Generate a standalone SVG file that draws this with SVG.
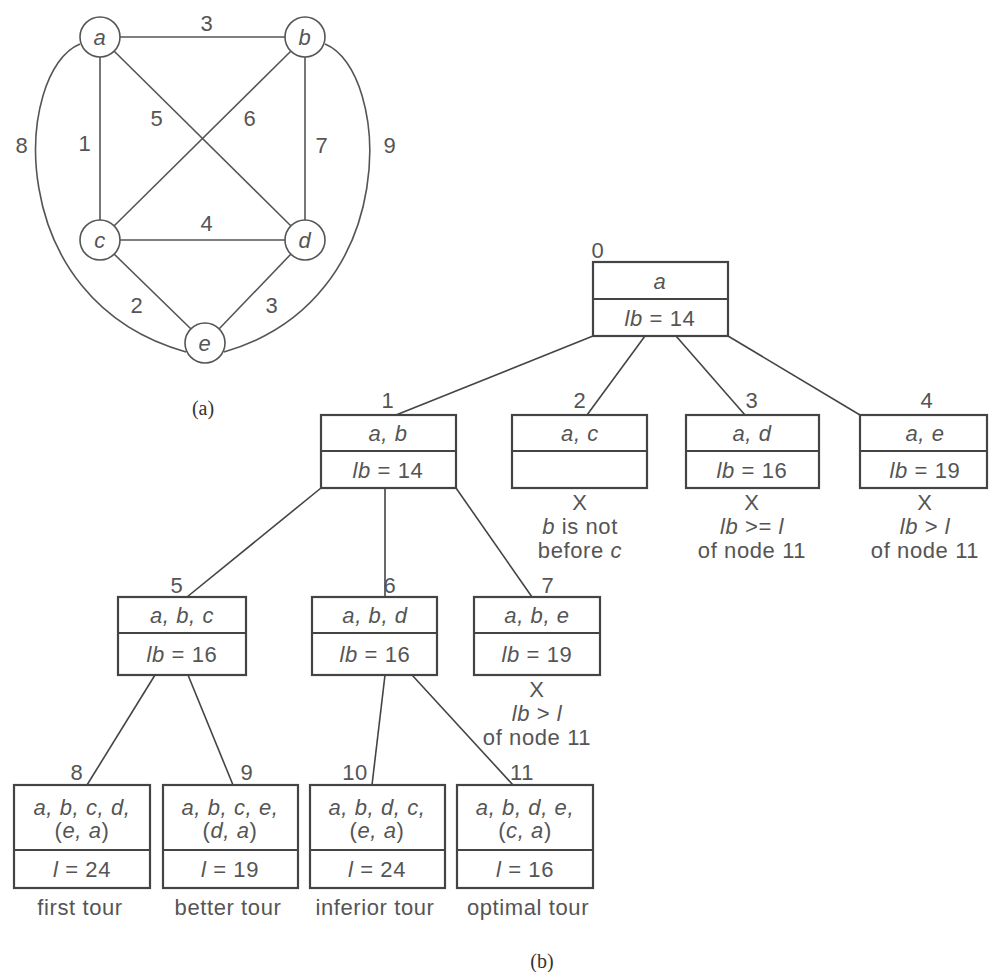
<svg xmlns="http://www.w3.org/2000/svg" width="990" height="972" viewBox="0 0 990 972">
<style>
text{font-family:"Liberation Sans",Arial,sans-serif;font-size:22px;fill:#555;text-anchor:middle;letter-spacing:0.6px}
.i{font-style:italic}
.cap{font-family:"Liberation Serif","Times New Roman",serif;font-size:20px;fill:#333;letter-spacing:0}
.g line,.g path,.g circle{stroke:#555;stroke-width:1.6;fill:none}
.g circle{fill:#fff}
.box rect{fill:#fff;stroke:#444;stroke-width:2.2}
.box line{stroke:#444;stroke-width:2.2}
.edges line{stroke:#444;stroke-width:1.6}
</style>
<rect width="990" height="972" fill="#fff"/>
<g id="graph-a" class="g">
<g id="graph-edges">
<line x1="120" y1="37" x2="285" y2="37"/>
<line x1="100" y1="57" x2="100" y2="220"/>
<line x1="305" y1="57" x2="305" y2="220"/>
<line x1="120" y1="240" x2="285" y2="240"/>
<line x1="114" y1="51" x2="291" y2="226"/>
<line x1="291" y1="51" x2="114" y2="226"/>
<line x1="114" y1="254" x2="191" y2="329"/>
<line x1="291" y1="254" x2="219" y2="329"/>
<path d="M 80,44 C 15,70 0,300 186,352"/>
<path d="M 325,44 C 390,70 405,300 224,352"/>
</g>
<g id="va"><circle cx="100" cy="37" r="20"/><text class="i" x="100" y="45">a</text></g>
<g id="vb"><circle cx="305" cy="37" r="20"/><text class="i" x="305" y="45">b</text></g>
<g id="vc"><circle cx="100" cy="240" r="20"/><text class="i" x="100" y="248">c</text></g>
<g id="vd"><circle cx="305" cy="240" r="20"/><text class="i" x="305" y="248">d</text></g>
<g id="ve"><circle cx="205" cy="343" r="20"/><text class="i" x="205" y="351">e</text></g>
<g id="weights">
<text x="207" y="31">3</text>
<text x="85" y="151">1</text>
<text x="157" y="126">5</text>
<text x="250" y="126">6</text>
<text x="322" y="153">7</text>
<text x="22" y="153">8</text>
<text x="390" y="153">9</text>
<text x="207" y="231">4</text>
<text x="137" y="313">2</text>
<text x="272" y="313">3</text>
</g>
<text class="cap" x="203" y="415">(a)</text>
</g>

<g id="connectors" class="edges">
<line x1="593" y1="336" x2="396" y2="415"/>
<line x1="645" y1="336" x2="587" y2="415"/>
<line x1="676" y1="336" x2="745" y2="415"/>
<line x1="728" y1="336" x2="860" y2="415"/>
<line x1="321" y1="488" x2="187" y2="597"/>
<line x1="385" y1="488" x2="385" y2="597"/>
<line x1="456" y1="488" x2="532" y2="597"/>
<line x1="155" y1="675" x2="87" y2="785"/>
<line x1="188" y1="675" x2="233" y2="785"/>
<line x1="385" y1="675" x2="372" y2="785"/>
<line x1="412" y1="675" x2="513" y2="785"/>
</g>

<g id="n0" class="box">
<rect x="593" y="262" width="135" height="74"/><line x1="593" y1="299" x2="728" y2="299"/>
<text x="598" y="258">0</text>
<text class="i" x="660" y="289">a</text>
<text x="660" y="326"><tspan class="i">lb</tspan> = 14</text>
</g>
<g id="n1" class="box">
<rect x="321" y="415" width="135" height="73"/><line x1="321" y1="451" x2="456" y2="451"/>
<text x="388" y="408">1</text>
<text class="i" x="388" y="441">a, b</text>
<text x="388" y="478"><tspan class="i">lb</tspan> = 14</text>
</g>
<g id="n2" class="box">
<rect x="512" y="415" width="135" height="73"/><line x1="512" y1="451" x2="647" y2="451"/>
<text x="580" y="408">2</text>
<text class="i" x="580" y="441">a, c</text>
<text x="580" y="510">X</text>
<text x="580" y="534"><tspan class="i">b</tspan> is not</text>
<text x="580" y="558">before <tspan class="i">c</tspan></text>
</g>
<g id="n3" class="box">
<rect x="686" y="415" width="133" height="73"/><line x1="686" y1="451" x2="819" y2="451"/>
<text x="752" y="408">3</text>
<text class="i" x="752" y="441">a, d</text>
<text x="752" y="478"><tspan class="i">lb</tspan> = 16</text>
<text x="752" y="510">X</text>
<text x="752" y="534"><tspan class="i">lb</tspan> &gt;= <tspan class="i">l</tspan></text>
<text x="752" y="558">of node 11</text>
</g>
<g id="n4" class="box">
<rect x="860" y="415" width="127" height="73"/><line x1="860" y1="451" x2="987" y2="451"/>
<text x="927" y="408">4</text>
<text class="i" x="925" y="441">a, e</text>
<text x="925" y="478"><tspan class="i">lb</tspan> = 19</text>
<text x="925" y="510">X</text>
<text x="925" y="534"><tspan class="i">lb</tspan> &gt; <tspan class="i">l</tspan></text>
<text x="925" y="558">of node 11</text>
</g>
<g id="n5" class="box">
<rect x="118" y="597" width="128" height="78"/><line x1="118" y1="633" x2="246" y2="633"/>
<text x="177" y="593">5</text>
<text class="i" x="182" y="623">a, b, c</text>
<text x="182" y="662"><tspan class="i">lb</tspan> = 16</text>
</g>
<g id="n6" class="box">
<rect x="312" y="597" width="125" height="78"/><line x1="312" y1="633" x2="437" y2="633"/>
<text x="390" y="593">6</text>
<text class="i" x="375" y="623">a, b, d</text>
<text x="375" y="662"><tspan class="i">lb</tspan> = 16</text>
</g>
<g id="n7" class="box">
<rect x="474" y="597" width="126" height="78"/><line x1="474" y1="633" x2="600" y2="633"/>
<text x="548" y="593">7</text>
<text class="i" x="537" y="623">a, b, e</text>
<text x="537" y="662"><tspan class="i">lb</tspan> = 19</text>
<text x="537" y="697">X</text>
<text x="537" y="721"><tspan class="i">lb</tspan> &gt; <tspan class="i">l</tspan></text>
<text x="537" y="745">of node 11</text>
</g>
<g id="n8" class="box">
<rect x="14" y="785" width="136" height="103"/><line x1="14" y1="850" x2="150" y2="850"/>
<text x="77" y="780">8</text>
<text class="i" x="82" y="815">a, b, c, d,</text>
<text x="82" y="838">(<tspan class="i">e, a</tspan>)</text>
<text x="82" y="877"><tspan class="i">l</tspan> = 24</text>
<text x="80" y="915">first tour</text>
</g>
<g id="n9" class="box">
<rect x="163" y="785" width="135" height="103"/><line x1="163" y1="850" x2="298" y2="850"/>
<text x="247" y="780">9</text>
<text class="i" x="230" y="815">a, b, c, e,</text>
<text x="230" y="838">(<tspan class="i">d, a</tspan>)</text>
<text x="230" y="877"><tspan class="i">l</tspan> = 19</text>
<text x="228" y="915">better tour</text>
</g>
<g id="n10" class="box">
<rect x="310" y="785" width="135" height="103"/><line x1="310" y1="850" x2="445" y2="850"/>
<text x="355" y="780">10</text>
<text class="i" x="377" y="815">a, b, d, c,</text>
<text x="377" y="838">(<tspan class="i">e, a</tspan>)</text>
<text x="377" y="877"><tspan class="i">l</tspan> = 24</text>
<text x="375" y="915">inferior tour</text>
</g>
<g id="n11" class="box">
<rect x="457" y="785" width="136" height="103"/><line x1="457" y1="850" x2="593" y2="850"/>
<text x="522" y="780">11</text>
<text class="i" x="525" y="815">a, b, d, e,</text>
<text x="525" y="838">(<tspan class="i">c, a</tspan>)</text>
<text x="525" y="877"><tspan class="i">l</tspan> = 16</text>
<text x="528" y="915">optimal tour</text>
</g>
<text class="cap" x="542" y="968">(b)</text>
</svg>
